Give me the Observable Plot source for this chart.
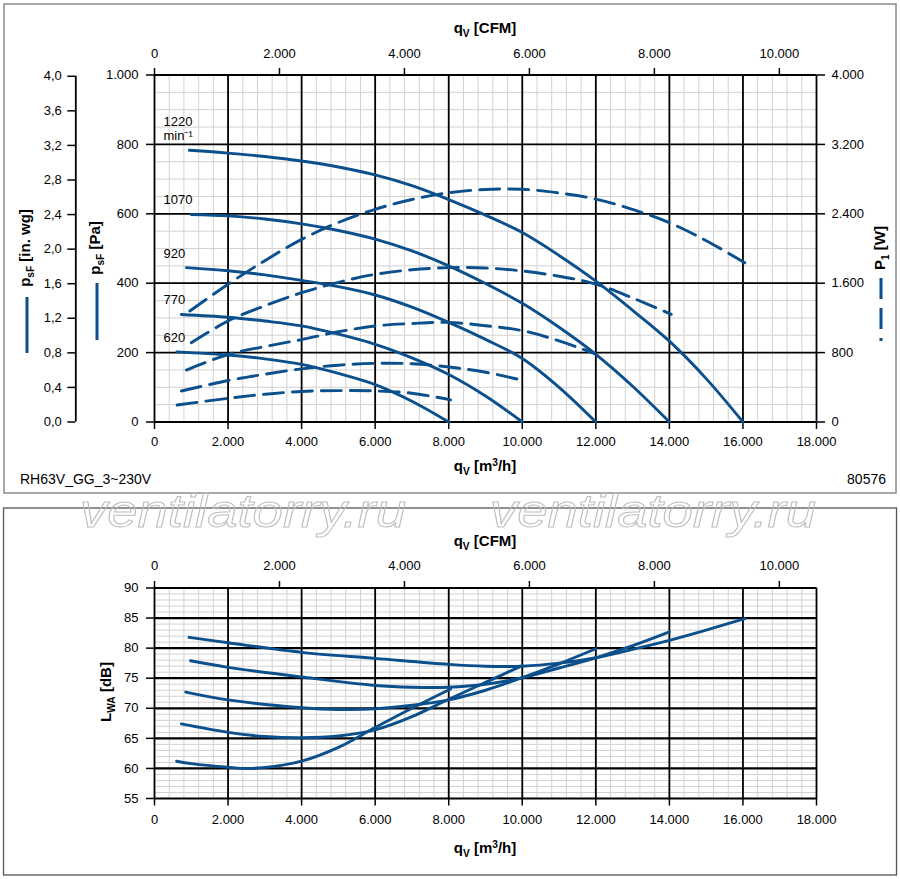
<!DOCTYPE html>
<html><head><meta charset="utf-8">
<script src="https://cdn.jsdelivr.net/npm/d3@7"></script>
<script src="https://cdn.jsdelivr.net/npm/@observablehq/plot@0.6"></script>
<style>
body{margin:0;background:#fff;}
#wrap{position:relative;width:900px;height:879px;font-family:"Liberation Sans",Arial,sans-serif;overflow:hidden;}
#wrap svg{position:absolute;left:0;}
</style></head><body><div id="wrap"></div>
<script>
// ---------- data ----------
const speeds = [1220, 1070, 920, 770, 620];
const speedLabels = ["1220\nmin⁻¹", "1070", "920", "770", "620"];

// static pressure psF [Pa] vs qV [m³/h]
const psf1220 = [[950,783],[2000,775],[3000,765],[4000,752],[5000,735],[6000,712],[7000,681],[8000,641],[9000,596],[10000,546],[11000,480],[12000,406],[13000,322],[14000,233],[15000,125],[16000,0]];
const psf1070 = [[1000,598],[2000,594],[3000,585],[4000,571],[5000,552],[6000,527],[7000,493],[8000,450],[9000,399],[10000,342],[11000,273],[12000,195],[13000,103],[14000,0]];
const psf920  = [[870,445],[2000,436],[3000,424],[4000,408],[5000,390],[6000,366],[7000,331],[8000,287],[9000,238],[10000,183],[11000,100],[12000,0]];
const psf770  = [[730,310],[2000,302],[3000,291],[4000,277],[5000,253],[6000,224],[7000,185],[8000,137],[9000,75],[10000,0]];
const psf620  = [[610,202],[2000,193],[3000,182],[4000,166],[5000,140],[6000,108],[7000,60],[8000,0]];

// power input P1 [W] vs qV [m³/h]
const p1_1220 = [[960,1280],[2000,1588],[3000,1860],[4000,2105],[5000,2300],[6000,2452],[7000,2565],[8000,2643],[9000,2680],[10000,2683],[11000,2640],[12000,2570],[13000,2450],[14000,2297],[15000,2090],[16050,1836]];
const p1_1070 = [[1000,914],[2000,1164],[3000,1340],[4000,1490],[5000,1610],[6000,1702],[7000,1755],[8000,1779],[9000,1775],[10000,1741],[11000,1680],[12000,1590],[13000,1430],[14050,1241]];
const p1_920  = [[870,599],[2000,778],[3000,870],[4000,950],[5000,1040],[6000,1107],[7000,1135],[8000,1148],[9000,1110],[10000,1053],[11000,935],[11980,786]];
const p1_770  = [[730,357],[2000,478],[3000,550],[4000,613],[5000,655],[6000,676],[7000,672],[8000,634],[9000,574],[10050,476]];
const p1_620  = [[615,196],[2000,273],[3000,320],[4000,352],[5000,362],[6000,358],[7000,332],[8050,255]];

// sound power LWA [dB] vs qV [m³/h]
const lwa1220 = [[940,81.8],[2000,80.9],[4000,79.3],[6000,78.3],[8000,77.3],[9000,77.0],[10000,77.0],[11000,77.5],[12000,78.4],[13000,79.8],[14000,81.3],[15000,83.0],[16050,84.9]];
const lwa1070 = [[980,77.9],[2000,76.8],[4000,75.2],[6000,73.8],[7000,73.5],[8000,73.5],[9000,74.0],[10000,75.1],[11000,76.7],[12000,78.4],[13000,80.4],[14000,82.7]];
const lwa920  = [[850,72.7],[2000,71.4],[4000,70.1],[5000,69.8],[6000,69.9],[7000,70.5],[8000,71.4],[9000,73.0],[10000,75.1],[11000,77.4],[12000,79.9]];
const lwa770  = [[730,67.4],[2000,66.0],[3000,65.3],[4000,65.1],[5000,65.4],[6000,66.4],[7000,68.6],[8000,71.5],[9000,74.3],[10000,77.1]];
const lwa620  = [[600,61.2],[1000,60.8],[2000,60.2],[2600,60.0],[3200,60.3],[4000,61.2],[5000,63.5],[6000,66.8],[7000,70.0],[8050,73.2]];

// axis ticks
const m3hTicks = [0,2000,4000,6000,8000,10000,12000,14000,16000,18000];
const cfmTicks = [0,2000,4000,6000,8000,10000];
const paTicks = [0,200,400,600,800,1000];
const inwgTicks = [0,0.4,0.8,1.2,1.6,2.0,2.4,2.8,3.2,3.6,4.0];
const wTicks = [0,800,1600,2400,3200,4000];
const dbTicks = [55,60,65,70,75,80,85,90];

// ---------- helpers ----------
const CFM = 1.69901;     // m³/h per CFM
const INWG = 249.089;    // Pa per in. wg
const W_PER_PA = 4;      // right axis ratio
const BLUE = "#0b4f8c";
const FONT = "'Liberation Sans', Arial, Helvetica, sans-serif";
const loc = d3.formatLocale({decimal: ",", thousands: ".", grouping: [3], currency: ["", ""]});
const fmtInt = loc.format(",.0f");
const fmtDec = loc.format(".1f");

const psfSets = [psf1220, psf1070, psf920, psf770, psf620];
const p1Sets = [p1_1220, p1_1070, p1_920, p1_770, p1_620];
const lwaSets = [lwa1220, lwa1070, lwa920, lwa770, lwa620];
const rows = (sets) => sets.flatMap((s, i) => s.map(([q, v]) => ({speed: speeds[i], q, v})));
const psfRows = rows(psfSets);
const p1Rows = rows(p1Sets);
const lwaRows = rows(lwaSets);
const labelRows = speeds.map((s, i) => ({label: speedLabels[i], v: psfSets[i][0][1]}));

const wrap = document.getElementById("wrap");
const styleObj = {fontFamily: FONT, fontSize: "13px", color: "#000", background: "transparent", overflow: "visible"};

const minorX = d3.range(0, 18001, 400);

// ---------- top chart ----------
const chartTop = Plot.plot({
  width: 900, height: 490,
  marginLeft: 154, marginRight: 84, marginTop: 74.5, marginBottom: 68.5,
  x: {domain: [0, 18000]},
  y: {domain: [0, 1000]},
  style: styleObj,
  marks: [
    Plot.gridX(minorX, {stroke: "#d2d2d2", strokeOpacity: 1, strokeWidth: 1}),
    Plot.gridY(d3.range(0, 1001, 50), {stroke: "#d2d2d2", strokeOpacity: 1, strokeWidth: 1}),
    Plot.gridX(m3hTicks, {stroke: "#000", strokeOpacity: 1, strokeWidth: 1.8}),
    Plot.gridY(paTicks, {stroke: "#000", strokeOpacity: 1, strokeWidth: 1.8}),
    Plot.axisX(m3hTicks, {anchor: "bottom", tickSize: 7.5, tickPadding: 7, tickFormat: fmtInt, label: null, strokeWidth: 1.5}),
    Plot.axisX(cfmTicks.map(c => c * CFM), {anchor: "top", tickSize: 7.5, tickPadding: 10, tickFormat: d => fmtInt(Math.round(d / CFM)), label: null, strokeWidth: 1.5}),
    Plot.axisY(paTicks, {anchor: "left", tickSize: 8, tickPadding: 8, tickFormat: fmtInt, label: null, strokeWidth: 1.5}),
    Plot.axisY(wTicks.map(w => w / W_PER_PA), {anchor: "right", tickSize: 8, tickPadding: 7, tickFormat: d => fmtInt(Math.round(d * W_PER_PA)), label: null, strokeWidth: 1.5}),
    Plot.axisY(inwgTicks.map(v => v * INWG), {anchor: "left", dx: -78.7, tickSize: 8, tickPadding: 6, tickFormat: d => fmtDec(d / INWG), label: null, strokeWidth: 1.5}),
    Plot.ruleX([0], {dx: -78.7, y1: 0, y2: 4 * INWG, stroke: "#000", strokeWidth: 1.8}),
    Plot.line(p1Rows, {x: "q", y: d => d.v / W_PER_PA, z: "speed", stroke: BLUE, strokeWidth: 2.9, strokeDasharray: "20,9", curve: "catmull-rom"}),
    Plot.line(psfRows, {x: "q", y: "v", z: "speed", stroke: BLUE, strokeWidth: 2.9, curve: "catmull-rom"}),
    Plot.text(labelRows, {y: "v", text: "label", frameAnchor: "left", dx: 9, dy: -10, textAnchor: "start", lineAnchor: "bottom", lineHeight: 1.1, fontSize: 13, fill: "#000"})
  ]
});
chartTop.style.top = "0px";
wrap.appendChild(chartTop);

// ---------- bottom chart ----------
const chartBottom = Plot.plot({
  width: 900, height: 389,
  marginLeft: 154, marginRight: 84, marginTop: 97.5, marginBottom: 81,
  x: {domain: [0, 18000]},
  y: {domain: [55, 90]},
  style: styleObj,
  marks: [
    Plot.gridX(minorX, {stroke: "#d2d2d2", strokeOpacity: 1, strokeWidth: 1}),
    Plot.gridY(d3.range(55, 90.1, 1), {stroke: "#d2d2d2", strokeOpacity: 1, strokeWidth: 1}),
    Plot.gridX(m3hTicks, {stroke: "#000", strokeOpacity: 1, strokeWidth: 1.8}),
    Plot.gridY(dbTicks, {stroke: "#000", strokeOpacity: 1, strokeWidth: 2.2}),
    Plot.axisX(m3hTicks, {anchor: "bottom", tickSize: 7.5, tickPadding: 9, tickFormat: fmtInt, label: null, strokeWidth: 1.5}),
    Plot.axisX(cfmTicks.map(c => c * CFM), {anchor: "top", tickSize: 7.5, tickPadding: 11, tickFormat: d => fmtInt(Math.round(d / CFM)), label: null, strokeWidth: 1.5}),
    Plot.axisY(dbTicks, {anchor: "left", tickSize: 8, tickPadding: 8, tickFormat: d => String(d), label: null, strokeWidth: 1.5}),
    Plot.line(lwaRows, {x: "q", y: "v", z: "speed", stroke: BLUE, strokeWidth: 2.9, curve: "catmull-rom"})
  ]
});
chartBottom.style.top = "490px";
wrap.appendChild(chartBottom);

// ---------- overlay: frames, titles, legend keys, watermark ----------
const ov = d3.select(wrap).append("svg")
  .attr("width", 900).attr("height", 879)
  .style("top", "0px").style("pointer-events", "none")
  .attr("font-family", FONT);

ov.append("rect").attr("x", 4).attr("y", 4).attr("width", 892).attr("height", 489)
  .attr("fill", "none").attr("stroke", "#8a8a8a").attr("stroke-width", 1.5);
ov.append("rect").attr("x", 3.5).attr("y", 508).attr("width", 893).attr("height", 367)
  .attr("fill", "none").attr("stroke", "#555").attr("stroke-width", 1.3);

function rich(x, y, parts, {anchor = "middle", size = 15, weight = "bold", rotate = 0} = {}) {
  const t = ov.append("text")
    .attr("transform", `translate(${x},${y}) rotate(${rotate})`)
    .attr("text-anchor", anchor).attr("font-size", size).attr("font-weight", weight).attr("fill", "#000");
  let shift = 0;
  for (const p of parts) {
    const s = t.append("tspan").text(p.t);
    const target = p.sub ? 4 : p.sup ? -5 : 0;
    if (target !== shift) { s.attr("dy", target - shift); shift = target; }
    if (p.sub || p.sup) s.attr("font-size", size * 0.68);
  }
  return t;
}

// top chart titles
rich(485, 33, [{t: "q"}, {t: "V", sub: true}, {t: " [CFM]"}]);
rich(485, 471, [{t: "q"}, {t: "V", sub: true}, {t: " [m"}, {t: "3", sup: true}, {t: "/h]"}]);
rich(30, 248, [{t: "p"}, {t: "sF", sub: true}, {t: " [in. wg]"}], {rotate: -90});
rich(99.5, 248, [{t: "p"}, {t: "sF", sub: true}, {t: " [Pa]"}], {rotate: -90});
rich(885, 248, [{t: "P"}, {t: "1", sub: true}, {t: " [W]"}], {rotate: -90});
rich(20, 484, [{t: "RH63V_GG_3~230V"}], {anchor: "start", size: 14, weight: "normal"});
rich(886, 484, [{t: "80576"}], {anchor: "end", size: 14, weight: "normal"});

// legend keys next to axis titles
ov.append("line").attr("x1", 27).attr("x2", 27).attr("y1", 297).attr("y2", 353).attr("stroke", BLUE).attr("stroke-width", 3);
ov.append("line").attr("x1", 97).attr("x2", 97).attr("y1", 283).attr("y2", 340).attr("stroke", BLUE).attr("stroke-width", 3);
ov.append("line").attr("x1", 881).attr("x2", 881).attr("y1", 278).attr("y2", 341).attr("stroke", BLUE).attr("stroke-width", 3).attr("stroke-dasharray", "21,9");

// bottom chart titles
rich(485, 546, [{t: "q"}, {t: "V", sub: true}, {t: " [CFM]"}]);
rich(485, 853, [{t: "q"}, {t: "V", sub: true}, {t: " [m"}, {t: "3", sup: true}, {t: "/h]"}]);
rich(111, 692, [{t: "L"}, {t: "WA", sub: true}, {t: " [dB]"}], {rotate: -90});

// watermark
for (const cx of [243, 653]) {
  ov.append("text").attr("x", cx).attr("y", 527).attr("text-anchor", "middle")
    .attr("font-size", 47).attr("font-style", "italic").attr("font-weight", 300)
    .attr("textLength", 326).attr("lengthAdjust", "spacingAndGlyphs")
    .attr("fill", "none").attr("stroke", "#bdbdbd").attr("stroke-width", 1)
    .text("ventilatorry.ru");
}
</script></body></html>
